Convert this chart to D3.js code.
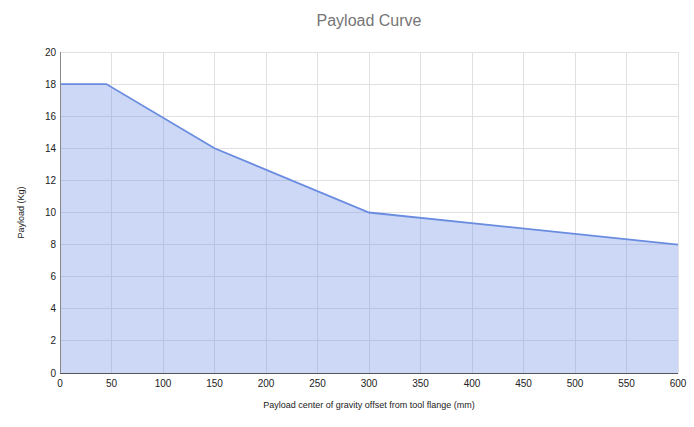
<!DOCTYPE html>
<html><head><meta charset="utf-8">
<script src="https://cdn.jsdelivr.net/npm/d3@7"></script>
<style>body{margin:0;background:#fff}svg{display:block;font-family:"Liberation Sans",Arial,sans-serif}</style>
</head><body><svg id="c" width="694" height="427"></svg>
<script>
const offsets = [0, 45, 150, 300, 600];
const payloads = [18, 18, 14, 10, 8];
const xTicks = [0,50,100,150,200,250,300,350,400,450,500,550,600];
const yTicks = [0,2,4,6,8,10,12,14,16,18,20];
const title = "Payload Curve";
const xTitle = "Payload center of gravity offset from tool flange (mm)";
const yTitle = "Payload (Kg)";

const svg = d3.select("#c");
const m = {l:60, r:16, t:52, b:54};
const W = 694, H = 427;
const x = d3.scaleLinear().domain([0,600]).range([m.l, W-m.r]);
const y = d3.scaleLinear().domain([0,20]).range([H-m.b, m.t]);
const data = offsets.map((d,i)=>({x:d,y:payloads[i]}));

// grid
svg.append("g").selectAll("line").data(xTicks.slice(1)).join("line")
  .attr("x1",d=>x(d)).attr("x2",d=>x(d)).attr("y1",y(20)).attr("y2",y(0))
  .attr("stroke","#e0e0e0").attr("stroke-width",1).attr("shape-rendering","crispEdges");
svg.append("g").selectAll("line").data(yTicks.slice(1)).join("line")
  .attr("x1",x(0)).attr("x2",x(600)).attr("y1",d=>y(d)).attr("y2",d=>y(d))
  .attr("stroke","#e0e0e0").attr("stroke-width",1).attr("shape-rendering","crispEdges");

// area
svg.append("path").datum(data)
  .attr("d", d3.area().x(d=>x(d.x)).y0(y(0)).y1(d=>y(d.y)))
  .attr("fill","#6d8fe6").attr("fill-opacity",0.35);
svg.append("path").datum(data)
  .attr("d", d3.line().x(d=>x(d.x)).y(d=>y(d.y)))
  .attr("fill","none").attr("stroke","#6a8ce0").attr("stroke-width",1.8);

// axes lines
svg.append("line").attr("x1",x(0)).attr("x2",x(0)).attr("y1",y(20)).attr("y2",y(0))
  .attr("stroke","#888").attr("shape-rendering","crispEdges");
svg.append("line").attr("x1",x(0)).attr("x2",x(600)).attr("y1",y(0)).attr("y2",y(0))
  .attr("stroke","#555").attr("shape-rendering","crispEdges");

// tick labels
svg.append("g").selectAll("text").data(xTicks).join("text")
  .attr("x",d=>x(d)).attr("y",y(0)+14).attr("text-anchor","middle")
  .attr("font-size",10).attr("fill","#222").text(d=>d);
svg.append("g").selectAll("text").data(yTicks).join("text")
  .attr("x",x(0)-4).attr("y",d=>y(d)+3.5).attr("text-anchor","end")
  .attr("font-size",10).attr("fill","#222").text(d=>d);

// titles
svg.append("text").attr("x",(x(0)+x(600))/2).attr("y",26).attr("text-anchor","middle")
  .attr("font-size",16).attr("fill","#757575").text(title);
svg.append("text").attr("x",(x(0)+x(600))/2).attr("y",408).attr("text-anchor","middle")
  .attr("font-size",9).attr("fill","#222").text(xTitle);
svg.append("text").attr("transform",`translate(24,${(y(0)+y(20))/2}) rotate(-90)`)
  .attr("text-anchor","middle").attr("font-size",9).attr("fill","#222").text(yTitle);
</script></body></html>
